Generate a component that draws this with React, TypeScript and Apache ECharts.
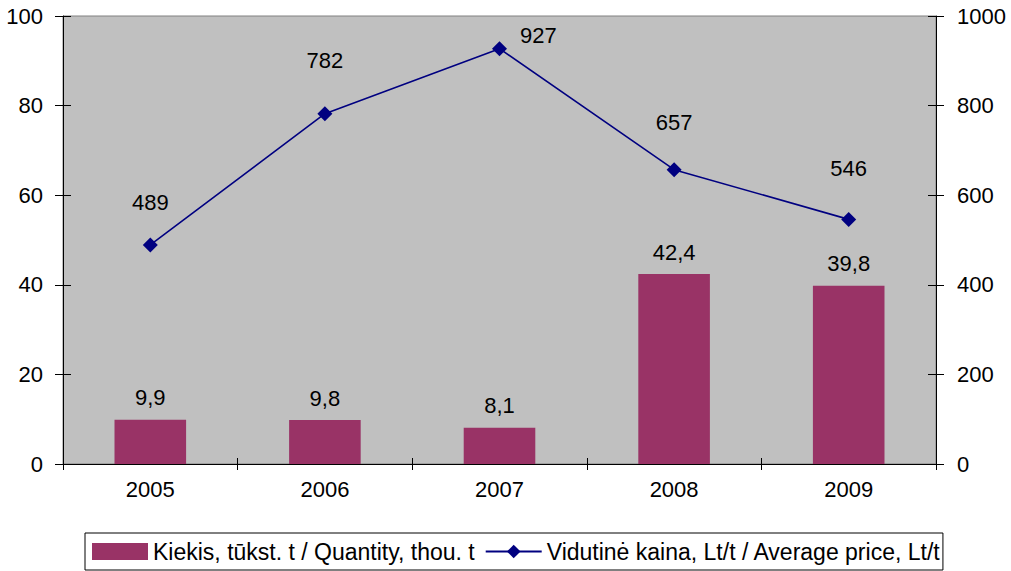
import React, { useEffect, useRef } from "react";
import * as echarts from "echarts";

const categories = ["2005", "2006", "2007", "2008", "2009"];
const quantity = [9.9, 9.8, 8.1, 42.4, 39.8];
const price = [489, 782, 927, 657, 546];
const leftTicks = { min: 0, max: 100, interval: 20 };
const rightTicks = { min: 0, max: 1000, interval: 200 };
const qtyName = "Kiekis, tūkst. t / Quantity, thou. t";
const priceName = "Vidutinė kaina, Lt/t / Average price, Lt/t";

const FONT = "'Liberation Sans', Arial, sans-serif";
const FS = 22;

// per-point label placement for the price line (as in the original chart)
const priceLabelDistance = [24, 35, 13, 29, 32];

export default function App() {
  const ref = useRef<HTMLDivElement>(null);
  useEffect(() => {
    if (!ref.current) return;
    const chart = echarts.init(ref.current, null, { renderer: "svg" });
    const axisLabel = { fontSize: FS, color: "#000", fontFamily: FONT, formatter: (v: any) => String(v) };
    chart.setOption({
      animation: false,
      textStyle: { fontFamily: FONT },
      grid: {
        left: 63,
        right: 75,
        top: 16,
        bottom: 107,
        show: true,
        backgroundColor: "#C0C0C0",
        borderColor: "#808080",
        borderWidth: 1,
      },
      legend: {
        bottom: 1,
        left: 85,
        padding: [7, 2, 7, 7],
        borderColor: "#000",
        borderWidth: 1,
        itemGap: 10,
        itemWidth: 56,
        itemHeight: 17,
        textStyle: { fontSize: 23, color: "#000", fontFamily: FONT },
        data: [
          { name: qtyName, icon: "rect" },
          { name: priceName },
        ],
      },
      xAxis: [
        {
          type: "category",
          data: categories,
          boundaryGap: true,
          axisLine: { lineStyle: { color: "#000", width: 1 } },
          axisTick: { show: true, length: 6, lineStyle: { color: "#000" } },
          axisLabel: { fontSize: FS, color: "#000", fontFamily: FONT, margin: 14 },
        },
        {
          type: "category",
          data: categories,
          position: "bottom",
          boundaryGap: true,
          axisLine: { show: false },
          axisTick: { show: true, inside: true, length: 6, lineStyle: { color: "#000" } },
          axisLabel: { show: false },
        },
      ],
      yAxis: [
        {
          type: "value",
          ...leftTicks,
          position: "left",
          axisLine: { show: true, lineStyle: { color: "#000" } },
          axisTick: { show: true, length: 8, lineStyle: { color: "#000" } },
          axisLabel: { ...axisLabel, margin: 20 },
          splitLine: { show: false },
        },
        {
          type: "value",
          ...rightTicks,
          position: "right",
          axisLine: { show: true, lineStyle: { color: "#000" } },
          axisTick: { show: true, length: 8, lineStyle: { color: "#000" } },
          axisLabel: { ...axisLabel, margin: 21 },
          splitLine: { show: false },
        },
        {
          type: "value",
          ...leftTicks,
          position: "left",
          axisLine: { show: false },
          axisTick: { show: true, inside: true, length: 8, lineStyle: { color: "#000" } },
          axisLabel: { show: false },
          splitLine: { show: false },
        },
        {
          type: "value",
          ...rightTicks,
          position: "right",
          axisLine: { show: false },
          axisTick: { show: true, inside: true, length: 8, lineStyle: { color: "#000" } },
          axisLabel: { show: false },
          splitLine: { show: false },
        },
      ],
      series: [
        {
          name: qtyName,
          type: "bar",
          yAxisIndex: 0,
          data: quantity,
          barWidth: "41%",
          itemStyle: { color: "#993366" },
          label: {
            show: true,
            position: "top",
            distance: 11,
            fontSize: FS,
            color: "#000",
            fontFamily: FONT,
            formatter: (p: any) => String(p.value).replace(".", ","),
          },
        },
        {
          name: priceName,
          type: "line",
          yAxisIndex: 1,
          data: price.map((v, i) =>
            i === 2
              ? {
                  value: v,
                  label: { position: "right", distance: priceLabelDistance[i], offset: [0, -13] },
                }
              : { value: v, label: { distance: priceLabelDistance[i] } }
          ),
          symbol: "diamond",
          symbolSize: 15,
          lineStyle: { color: "#000080", width: 1.6 },
          itemStyle: { color: "#000080" },
          label: {
            show: true,
            position: "top",
            fontSize: FS,
            color: "#000",
            fontFamily: FONT,
          },
        },
      ],
    });
    return () => chart.dispose();
  }, []);
  return (
    <div
      ref={ref}
      style={{ position: "fixed", left: 0, top: 0, width: 1011, height: 571, background: "#fff" }}
    />
  );
}
